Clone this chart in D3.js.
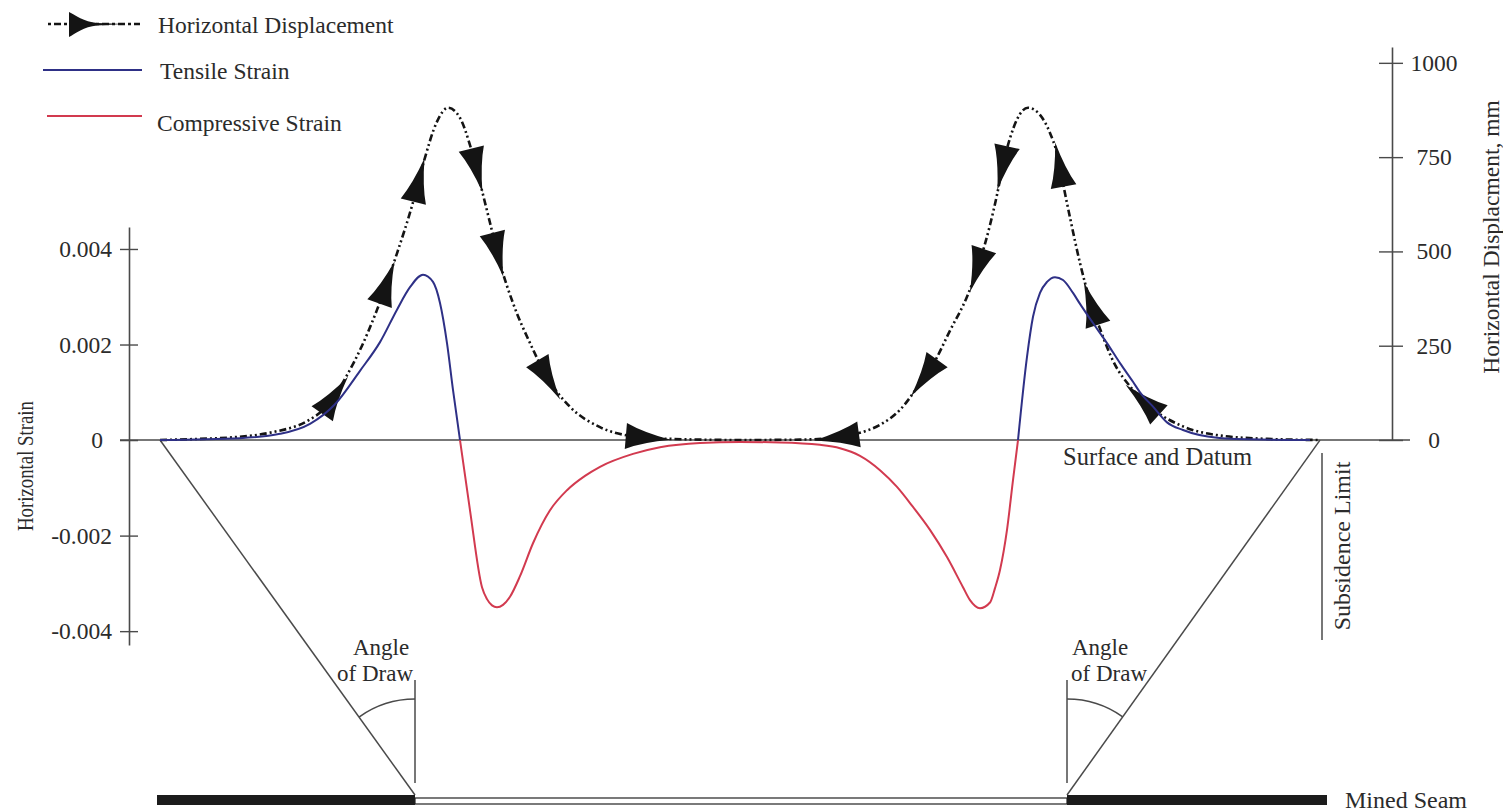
<!DOCTYPE html>
<html>
<head>
<meta charset="utf-8">
<script src="https://cdn.jsdelivr.net/npm/d3@7"></script>
<style>
  html, body { margin: 0; padding: 0; background: #fff; }
  svg { display: block; }
  text { font-family: "Liberation Serif", "Times New Roman", serif; fill: #2b2b2b; }
</style>
</head>
<body>
<svg id="chart" width="1503" height="812"></svg>
<script>
// Distances along the ground profile, measured from the panel centre (m)
const dispDistance = [-580, -540, -503, -467, -433, -413, -393, -378, -363, -343, -327, -317, -303, -292,
  -280, -270, -260, -250, -240, -227, -210, -193, -170, -140, -110, -70, 0,
  60, 90, 120, 140, 160, 180, 193, 210, 227, 240, 250, 257, 263, 270, 277, 288,
  300, 310, 317, 323, 330, 340, 350, 360, 373, 393, 413, 443, 477, 527, 580];
// Horizontal displacement (mm)
const dispValue = [0, 3, 8, 21, 50, 90, 172, 250, 345, 495, 630, 730, 844, 881,
  854, 782, 682, 576, 469, 363, 257, 167, 88, 34, 11, 3, 0,
  1, 5, 19, 40, 80, 150, 200, 290, 380, 475, 570, 650, 730, 800, 850, 881,
  862, 814, 760, 680, 590, 469, 370, 295, 210, 133, 82, 36, 13, 3, 0];

const strainDistance = [-580, -500, -460, -430, -405, -380, -360, -343, -330, -317, -307, -300, -293, -287, -280,
  -270, -258, -253, -248, -243, -237, -230, -220, -207, -190, -173, -155, -140, -107, -80, -40, 0,
  40, 80, 100, 120, 140, 157, 173, 190, 207, 223, 230, 240, 250, 255, 260, 267, 273, 278,
  287, 293, 300, 307, 315, 323, 333, 340, 353, 367, 380, 393, 400, 413, 427, 443, 477, 520, 570];
// Horizontal strain (positive = tensile, negative = compressive)
const strainValue = [0, 0.00004, 0.00013, 0.00034, 0.00075, 0.00145, 0.00205, 0.00273, 0.0032, 0.00346, 0.00331, 0.00287, 0.00203, 0.00105, 0,
  -0.00147, -0.00308, -0.00333, -0.00346, -0.0035, -0.00345, -0.00328, -0.00285, -0.00216, -0.00147, -0.00105, -0.00075, -0.00056, -0.00029, -0.00015, -0.00006, -0.00004,
  -0.00005, -0.0001, -0.00017, -0.00033, -0.00063, -0.00098, -0.0014, -0.00188, -0.00245, -0.00308, -0.00335, -0.00352, -0.0034, -0.0031, -0.00272, -0.00188, -0.00084, 0,
  0.00174, 0.00258, 0.00308, 0.00331, 0.00341, 0.00335, 0.00308, 0.00285, 0.00245, 0.00203, 0.00161, 0.00122, 0.001, 0.0007, 0.00037, 0.00021, 0.00005, 0.00001, 0];

// Direction arrows on the displacement profile (+1 = toward increasing distance)
const arrowDistance = [-407, -354, -322, -264, -243, -193, -95, 100, 186, 238, 263, 320, 352, 405];
const arrowHeading = [1, 1, 1, 1, 1, 1, 1, -1, -1, -1, -1, -1, -1, -1];

const strainTicks = [-0.004, -0.002, 0, 0.002, 0.004];
const dispTicks = [0, 250, 500, 750, 1000];

// Section geometry (m from panel centre)
const subsidenceLimits = [-580, 580];
const panelEdges = [-325, 327];
const seamExtent = [-583, 587];

const legendLabels = ["Horizontal Displacement", "Tensile Strain", "Compressive Strain"];

const tensileColor = "#2e3086";
const compressiveColor = "#d23a4f";
const lineGrey = "#4a4a4a";

const svg = d3.select("#chart");

const x = d3.scaleLinear().domain([-580, 580]).range([160, 1320]);
const yStrain = d3.scaleLinear().domain([-0.00429, 0.00446]).range([645, 227]);
const yDisp = d3.scaleLinear().domain([0, 1042]).range([440, 47]);

const surfaceY = yStrain(0);
const seamTop = 795;

// ---- Surface / datum line ----
svg.append("line")
  .attr("x1", 120).attr("x2", 1410)
  .attr("y1", surfaceY).attr("y2", surfaceY)
  .attr("stroke", lineGrey).attr("stroke-width", 1.6);

// ---- Left axis: horizontal strain ----
const fmtStrain = d => d === 0 ? "0" : (d < 0 ? "-" : "") + Math.abs(d).toFixed(3);
const leftAxis = svg.append("g")
  .attr("transform", "translate(129,0)")
  .call(d3.axisLeft(yStrain).tickValues(strainTicks).tickFormat(fmtStrain).tickSizeOuter(0));
leftAxis.select(".domain").attr("stroke", lineGrey).attr("stroke-width", 1.6);
leftAxis.selectAll(".tick line").attr("x1", -9).attr("x2", 9).attr("stroke", lineGrey).attr("stroke-width", 1.4);
leftAxis.selectAll(".tick text")
  .attr("x", -17).attr("dx", d => d === 0 ? -9 : 0)
  .style("font-size", "23.5px").style("font-family", "'Liberation Serif', serif").attr("fill", "#2b2b2b");

svg.append("text")
  .attr("transform", `translate(33,466) rotate(-90)`)
  .attr("text-anchor", "middle")
  .attr("textLength", 130)
  .attr("lengthAdjust", "spacingAndGlyphs")
  .style("font-size", "24px")
  .text("Horizontal Strain");

// ---- Right axis: horizontal displacement ----
const rightAxis = svg.append("g")
  .attr("transform", "translate(1392,0)")
  .call(d3.axisRight(yDisp).tickValues(dispTicks).tickFormat(d3.format("d")).tickSizeOuter(0));
rightAxis.select(".domain").attr("stroke", lineGrey).attr("stroke-width", 1.6);
rightAxis.selectAll(".tick line").attr("x1", -13).attr("x2", 11).attr("stroke", lineGrey).attr("stroke-width", 1.4);
rightAxis.selectAll(".tick text")
  .attr("x", 42).attr("text-anchor", "middle")
  .style("font-size", "23.5px").style("font-family", "'Liberation Serif', serif").attr("fill", "#2b2b2b");

svg.append("text")
  .attr("transform", `translate(1499,237) rotate(-90)`)
  .attr("text-anchor", "middle")
  .style("font-size", "23.5px")
  .text("Horizontal Displacment, mm");

// ---- Angle of draw construction ----
const sec = svg.append("g").attr("stroke", lineGrey).attr("stroke-width", 1.5).attr("fill", "none");
[0, 1].forEach(i => {
  const xl = x(subsidenceLimits[i]);
  const xe = x(panelEdges[i]);
  sec.append("line").attr("x1", xl).attr("y1", surfaceY).attr("x2", xe).attr("y2", seamTop);
  sec.append("line").attr("x1", xe).attr("y1", 680).attr("x2", xe).attr("y2", 783);
  const r = 96;
  const a0 = -Math.PI / 2;
  const a1 = Math.atan2(surfaceY - seamTop, xl - xe);
  const p = d3.path();
  p.arc(xe, seamTop, r, a0, a1, a1 < a0);
  sec.append("path").attr("d", p.toString());
});

const angleLabels = [{ x: 381, x2: 375 }, { x: 1100, x2: 1109 }];
angleLabels.forEach(a => {
  svg.append("text").attr("x", a.x).attr("y", 655).attr("text-anchor", "middle")
    .style("font-size", "23px").text("Angle");
  svg.append("text").attr("x", a.x2).attr("y", 681).attr("text-anchor", "middle")
    .style("font-size", "23px").text("of Draw");
});

// Subsidence limit marker
svg.append("line")
  .attr("x1", x(subsidenceLimits[1]) + 2).attr("x2", x(subsidenceLimits[1]) + 2)
  .attr("y1", 453).attr("y2", 640)
  .attr("stroke", lineGrey).attr("stroke-width", 1.5);
svg.append("text")
  .attr("transform", `translate(1350,546) rotate(-90)`)
  .attr("text-anchor", "middle")
  .style("font-size", "24px")
  .text("Subsidence Limit");

svg.append("text").attr("x", 1063).attr("y", 465)
  .style("font-size", "24.5px").text("Surface and Datum");

// ---- Mined seam ----
svg.append("rect")
  .attr("x", x(seamExtent[0])).attr("y", seamTop)
  .attr("width", x(panelEdges[0]) - x(seamExtent[0])).attr("height", 10)
  .attr("fill", "#1c1c1c");
svg.append("rect")
  .attr("x", x(panelEdges[0])).attr("y", seamTop + 3)
  .attr("width", x(panelEdges[1]) - x(panelEdges[0])).attr("height", 6)
  .attr("fill", "#fff").attr("stroke", "#222").attr("stroke-width", 1.2);
svg.append("rect")
  .attr("x", x(panelEdges[1])).attr("y", seamTop)
  .attr("width", x(seamExtent[1]) - x(panelEdges[1])).attr("height", 10)
  .attr("fill", "#1c1c1c");
svg.append("text").attr("x", 1345).attr("y", 808)
  .style("font-size", "24px").text("Mined Seam");

// ---- Horizontal displacement profile ----
const dispData = dispDistance.map((d, i) => [d, dispValue[i]]);
const dispLine = d3.line()
  .x(d => x(d[0])).y(d => yDisp(d[1]))
  .curve(d3.curveMonotoneX);
const dispDash = "7,3,2,3,2,3";
const dispPath = svg.append("path")
  .datum(dispData)
  .attr("d", dispLine)
  .attr("fill", "none")
  .attr("stroke", "#141414")
  .attr("stroke-width", 2.6)
  .attr("stroke-dasharray", dispDash);

// Arrowhead with concave flanks, pointing along +x
const arrowShape = "M-19,-13 Q-2,-5 26,0 Q-2,5 -19,13 Z";
const node = dispPath.node();
const total = node.getTotalLength();
const samples = d3.range(0, total, 0.5).map(l => node.getPointAtLength(l));
const arrowLayer = svg.append("g").attr("fill", "#141414");
arrowDistance.forEach((d, i) => {
  const tx = x(d);
  const k = d3.minIndex(samples, p => Math.abs(p.x - tx));
  const a = samples[Math.max(0, k - 10)];
  const b = samples[Math.min(samples.length - 1, k + 10)];
  let ang = Math.atan2(b.y - a.y, b.x - a.x) * 180 / Math.PI;
  if (arrowHeading[i] < 0) ang += 180;
  const p = samples[k];
  arrowLayer.append("path")
    .attr("d", arrowShape)
    .attr("transform", `translate(${p.x},${p.y}) rotate(${ang})`);
});

// ---- Horizontal strain profile, split into tensile / compressive runs ----
const strainData = strainDistance.map((d, i) => [d, strainValue[i]]);
const breaks = [0];
strainValue.forEach((v, i) => { if (v === 0 && i > 0 && i < strainValue.length - 1) breaks.push(i); });
breaks.push(strainValue.length - 1);
const strainLine = d3.line()
  .x(d => x(d[0])).y(d => yStrain(d[1]))
  .curve(d3.curveMonotoneX);
for (let s = 0; s < breaks.length - 1; s++) {
  const seg = strainData.slice(breaks[s], breaks[s + 1] + 1);
  const mid = seg[Math.floor(seg.length / 2)][1];
  svg.append("path")
    .datum(seg)
    .attr("d", strainLine)
    .attr("fill", "none")
    .attr("stroke", mid >= 0 ? tensileColor : compressiveColor)
    .attr("stroke-width", 2);
}

// ---- Legend ----
const legend = svg.append("g");
legend.append("line")
  .attr("x1", 48).attr("x2", 140).attr("y1", 24).attr("y2", 24)
  .attr("stroke", "#141414").attr("stroke-width", 2.6).attr("stroke-dasharray", "3,3,7,3");
legend.append("path")
  .attr("d", "M69,12 C75,15 84,22 97,23 L124,24 L97,25.5 C84,26.5 75,34 69,37 Z")
  .attr("fill", "#141414");
legend.append("line")
  .attr("x1", 43).attr("x2", 142).attr("y1", 70).attr("y2", 70)
  .attr("stroke", tensileColor).attr("stroke-width", 2);
legend.append("line")
  .attr("x1", 47).attr("x2", 142).attr("y1", 116).attr("y2", 116)
  .attr("stroke", compressiveColor).attr("stroke-width", 2);
const legendPos = [[158, 33], [160, 79], [157, 131]];
legendLabels.forEach((t, i) => {
  legend.append("text")
    .attr("x", legendPos[i][0]).attr("y", legendPos[i][1])
    .style("font-size", "23.5px")
    .text(t);
});
</script>
</body>
</html>
